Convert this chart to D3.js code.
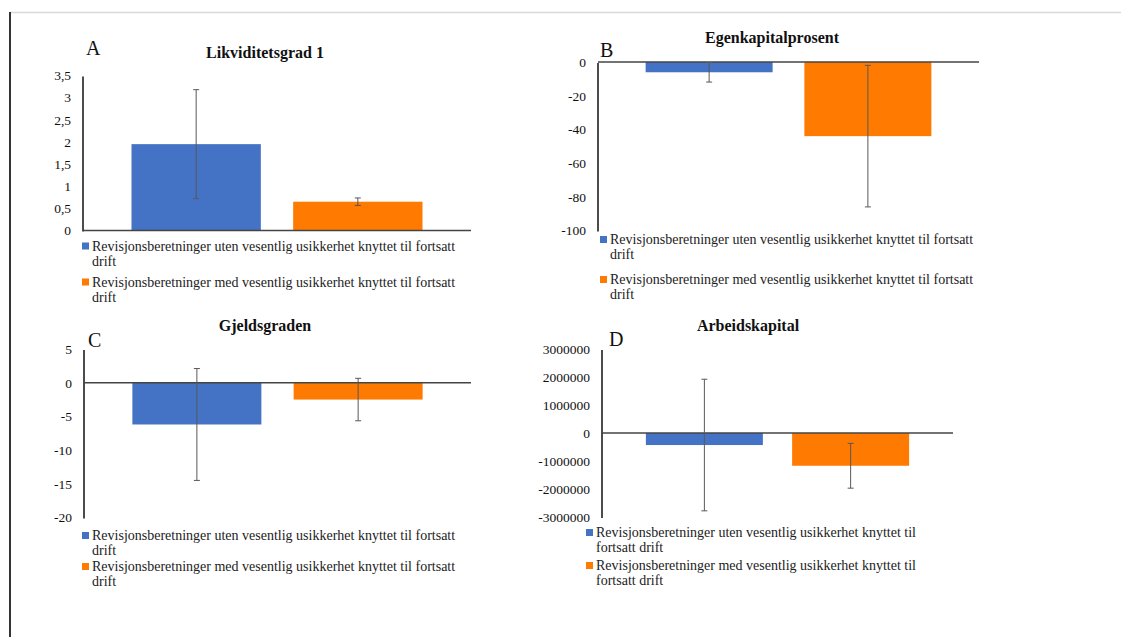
<!DOCTYPE html>
<html>
<head>
<meta charset="utf-8">
<script src="https://cdn.jsdelivr.net/npm/d3@7"></script>
<style>
  html, body { margin: 0; padding: 0; background: #fff; }
  svg { display: block; font-family: "Liberation Serif", "Times New Roman", serif; }
</style>
</head>
<body>
<svg id="chart" width="1121" height="637"></svg>
<script>
// Series shown in every panel
const seriesNames = [
  "Revisjonsberetninger uten vesentlig usikkerhet knyttet til fortsatt drift",
  "Revisjonsberetninger med vesentlig usikkerhet knyttet til fortsatt drift"
];
const seriesColors = ["#4472C4", "#FF7A00"];

// Panel titles and letters
const panelLetters = ["A", "B", "C", "D"];
const panelTitles = ["Likviditetsgrad 1", "Egenkapitalprosent", "Gjeldsgraden", "Arbeidskapital"];

// Means per panel (uten, med)
const likviditetMeans = [1.95, 0.65];
const egenkapitalMeans = [-6.1, -44];
const gjeldMeans = [-6.2, -2.5];
const arbeidMeans = [-430000, -1170000];

// Error bar half-widths per panel (uten, med)
const likviditetErr = [1.23, 0.085];
const egenkapitalErr = [5.8, 42];
const gjeldErr = [8.3, 3.15];
const arbeidErr = [2350000, 800000];

// Y-axis tick values per panel
const likviditetTicks = [0, 0.5, 1, 1.5, 2, 2.5, 3, 3.5];
const egenkapitalTicks = [-100, -80, -60, -40, -20, 0];
const gjeldTicks = [-20, -15, -10, -5, 0, 5];
const arbeidTicks = [-3000000, -2000000, -1000000, 0, 1000000, 2000000, 3000000];

const svg = d3.select("#chart");

// page frame: thin top rule and dark left rule
svg.append("line").attr("x1", 10).attr("x2", 1121).attr("y1", 12.5).attr("y2", 12.5)
  .attr("stroke", "#d9d9d9").attr("stroke-width", 1.5);
svg.append("line").attr("x1", 10).attr("x2", 10).attr("y1", 12).attr("y2", 637)
  .attr("stroke", "#333").attr("stroke-width", 2);

const commaFmt = v => String(v).replace(".", ",");

const panels = [
  { means: likviditetMeans, err: likviditetErr, ticks: likviditetTicks, fmt: commaFmt,
    x0: 83, x1: 471, yTop: 75.5, yBot: 230.5,
    letter: [86, 55], title: [265, 58], legend: { x: 82, y: 246, wrap: 372, gap: 36 } },
  { means: egenkapitalMeans, err: egenkapitalErr, ticks: egenkapitalTicks, fmt: commaFmt,
    x0: 598, x1: 979, yTop: 62, yBot: 230.5,
    letter: [600, 57], title: [772, 43], legend: { x: 600, y: 239.5, wrap: 372, gap: 40 } },
  { means: gjeldMeans, err: gjeldErr, ticks: gjeldTicks, fmt: commaFmt,
    x0: 84, x1: 471, yTop: 349, yBot: 517.5,
    letter: [88, 347], title: [265, 331], legend: { x: 82, y: 535.5, wrap: 372, gap: 31 } },
  { means: arbeidMeans, err: arbeidErr, ticks: arbeidTicks, fmt: d => String(d),
    x0: 602, x1: 953, yTop: 349, yBot: 517,
    letter: [609, 346], title: [748, 331], legend: { x: 586, y: 532.5, wrap: 340, gap: 33 } }
];

panels.forEach((p, i) => {
  const g = svg.append("g");
  const y = d3.scaleLinear()
    .domain([d3.min(p.ticks), d3.max(p.ticks)])
    .range([p.yBot, p.yTop]);
  const x = d3.scaleBand()
    .domain(seriesNames)
    .range([p.x0, p.x1])
    .paddingInner(0.2)
    .paddingOuter(0.3);

  // bars
  g.selectAll("rect.bar").data(p.means).join("rect")
    .attr("class", "bar")
    .attr("x", (d, j) => x(seriesNames[j]))
    .attr("width", x.bandwidth())
    .attr("y", d => Math.min(y(d), y(0)))
    .attr("height", d => Math.abs(y(d) - y(0)))
    .attr("fill", (d, j) => seriesColors[j]);

  // y axis (labels only, plus vertical line)
  const yAxis = d3.axisLeft(y).tickValues(p.ticks).tickSize(0).tickPadding(0).tickFormat(p.fmt);
  const ax = g.append("g").attr("transform", `translate(${p.x0 - 12},0)`).call(yAxis);
  ax.attr("font-family", null).attr("font-size", null);
  ax.select(".domain").remove();
  ax.selectAll("text").attr("font-size", 13.5).attr("fill", "#111");
  g.append("line").attr("x1", p.x0).attr("x2", p.x0)
    .attr("y1", p.yTop + 1).attr("y2", p.yBot + 1)
    .attr("stroke", "#111").attr("stroke-width", 1.5);

  // zero baseline
  g.append("line").attr("x1", p.x0).attr("x2", p.x1)
    .attr("y1", y(0)).attr("y2", y(0))
    .attr("stroke", "#444").attr("stroke-width", 1.5);

  // error bars
  const eb = g.selectAll("g.err").data(p.means).join("g").attr("class", "err");
  eb.append("line")
    .attr("x1", (d, j) => x(seriesNames[j]) + x.bandwidth() / 2)
    .attr("x2", (d, j) => x(seriesNames[j]) + x.bandwidth() / 2)
    .attr("y1", (d, j) => y(d + p.err[j]))
    .attr("y2", (d, j) => y(d - p.err[j]))
    .attr("stroke", "#595959").attr("stroke-width", 1);
  [1, -1].forEach(s => {
    eb.append("line")
      .attr("x1", (d, j) => x(seriesNames[j]) + x.bandwidth() / 2 - 3)
      .attr("x2", (d, j) => x(seriesNames[j]) + x.bandwidth() / 2 + 3)
      .attr("y1", (d, j) => y(d + s * p.err[j]))
      .attr("y2", (d, j) => y(d + s * p.err[j]))
      .attr("stroke", "#595959").attr("stroke-width", 1);
  });

  // panel letter and title
  g.append("text").attr("x", p.letter[0]).attr("y", p.letter[1])
    .attr("font-size", 20).attr("fill", "#111").text(panelLetters[i]);
  g.append("text").attr("x", p.title[0]).attr("y", p.title[1])
    .attr("text-anchor", "middle").attr("font-size", 16).attr("font-weight", "bold")
    .attr("fill", "#111").text(panelTitles[i]);

  // legend with wrapped labels
  seriesNames.forEach((name, j) => {
    const cy = p.legend.y + j * p.legend.gap;
    g.append("rect").attr("x", p.legend.x).attr("y", cy - 3.5)
      .attr("width", 7).attr("height", 7).attr("fill", seriesColors[j]);
    const t = g.append("text").attr("x", p.legend.x + 10).attr("y", cy + 4.5)
      .attr("font-size", 14).attr("fill", "#222");
    const words = name.split(" ");
    let line = [];
    let tspan = t.append("tspan").attr("x", p.legend.x + 10).attr("dy", 0);
    words.forEach(w => {
      line.push(w);
      tspan.text(line.join(" "));
      if (tspan.node().getComputedTextLength() > p.legend.wrap && line.length > 1) {
        line.pop();
        tspan.text(line.join(" "));
        line = [w];
        tspan = t.append("tspan").attr("x", p.legend.x + 10).attr("dy", 15).text(w);
      }
    });
  });
});
</script>
</body>
</html>
